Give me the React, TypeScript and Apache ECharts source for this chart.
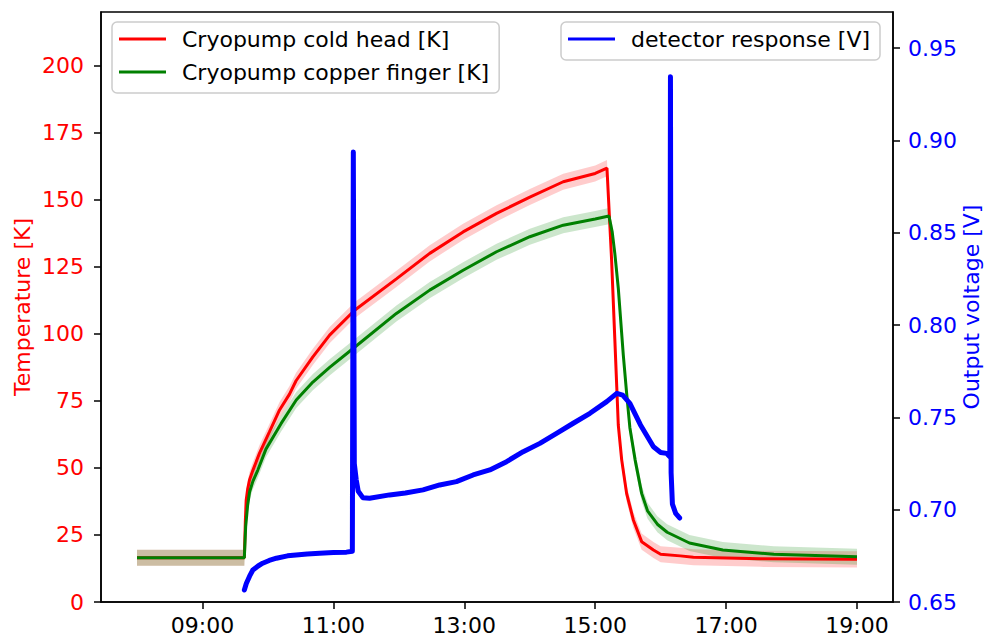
import React, { useEffect, useRef } from "react";
import * as echarts from "echarts";

// time in decimal hours, temperature in K
const coldHead: [number, number][] = [
  [8.0, 16.5], [9.64, 16.5], [9.655, 30], [9.668, 38], [9.69, 42], [9.719, 45.5], [9.769, 49],
  [9.872, 55.5], [10.025, 63.5], [10.178, 71.6], [10.33, 77.5], [10.43, 82.5], [10.687, 91.4],
  [10.943, 99.5], [11.325, 108.8], [11.963, 120.5], [12.472, 130], [12.982, 138], [13.493, 144.9],
  [14.002, 151], [14.512, 156.7], [15.0, 159.8], [15.18, 161.8], [15.25, 128], [15.3, 98],
  [15.33, 80], [15.353, 66], [15.405, 53], [15.48, 40.5], [15.583, 30.6], [15.71, 22.5],
  [15.89, 19.4], [16.0, 17.8], [16.3, 17.2], [16.5, 16.7], [17.52, 16.1], [19.0, 15.9],
];

const copperFinger: [number, number][] = [
  [8.0, 16.5], [9.64, 16.5], [9.66, 28], [9.69, 36], [9.72, 41], [9.77, 45], [9.846, 49.2],
  [9.97, 57], [10.2, 66.5], [10.433, 75.3], [10.687, 82], [10.943, 87.5], [11.325, 95],
  [11.963, 107.6], [12.472, 116.3], [12.982, 123.7], [13.493, 130.6], [14.002, 136.2],
  [14.512, 140.5], [15.0, 142.8], [15.21, 143.9], [15.26, 138], [15.3, 130], [15.353, 117],
  [15.43, 92], [15.48, 78], [15.53, 65], [15.61, 53], [15.71, 40.5], [15.8, 34], [15.95, 29],
  [16.1, 26], [16.44, 22], [16.95, 19.4], [17.73, 17.8], [19.0, 16.9],
];

// uncertainty of the temperature readings (K)
const tempUncertainty = 3;

// detector output voltage (V)
const detector: [number, number][] = [
  [9.64, 0.6565], [9.67, 0.66], [9.72, 0.664], [9.77, 0.6673], [9.85, 0.6695], [9.92, 0.671],
  [10.02, 0.6725], [10.13, 0.6737], [10.3, 0.675], [10.43, 0.6755], [10.6, 0.676], [10.79, 0.6764],
  [11.0, 0.6768], [11.2, 0.677], [11.29, 0.6775], [11.305, 0.8937], [11.32, 0.725], [11.35, 0.716],
  [11.38, 0.71], [11.45, 0.7065], [11.553, 0.7062], [11.859, 0.708], [12.1, 0.709], [12.37, 0.7107],
  [12.625, 0.7134], [12.88, 0.7152], [13.135, 0.7188], [13.39, 0.7215], [13.646, 0.726],
  [13.9, 0.7314], [14.155, 0.7359], [14.41, 0.7413], [14.665, 0.7468], [14.92, 0.7522],
  [15.176, 0.7585], [15.33, 0.763], [15.42, 0.762], [15.53, 0.7576], [15.69, 0.746],
  [15.89, 0.7341], [16.0, 0.731], [16.09, 0.7305], [16.14, 0.7287], [16.15, 0.9345],
  [16.16, 0.72], [16.18, 0.703], [16.23, 0.698], [16.29, 0.6955],
];

const timeTicks = [9, 11, 13, 15, 17, 19];
const tempTicks = [0, 25, 50, 75, 100, 125, 150, 175, 200];
const voltTicks = [0.65, 0.7, 0.75, 0.8, 0.85, 0.9, 0.95];

const NAME_HEAD = "Cryopump cold head [K]";
const NAME_FINGER = "Cryopump copper finger [K]";
const NAME_DET = "detector response [V]";

const FONT = "DejaVu Sans";
const FS = 22;

function bandSeries(data: [number, number][], color: string) {
  return {
    type: "custom",
    coordinateSystem: "cartesian2d",
    xAxisIndex: 0,
    yAxisIndex: 0,
    silent: true,
    z: 1,
    data: [[data[0][0], data[0][1]]],
    renderItem: (params: any, api: any) => {
      const upper = data.map((d) => api.coord([d[0], d[1] + tempUncertainty]));
      const lower = data
        .slice()
        .reverse()
        .map((d) => api.coord([d[0], d[1] - tempUncertainty]));
      return {
        type: "polygon",
        shape: { points: upper.concat(lower) },
        style: { fill: color, stroke: "none" },
      };
    },
  };
}

export default function App() {
  const ref = useRef<HTMLDivElement>(null);
  useEffect(() => {
    if (!ref.current) return;
    const chart = echarts.init(ref.current, null, { renderer: "svg" });
    const pad2 = (v: number) => (v < 10 ? "0" + v : "" + v);
    const legendCommon = {
      orient: "vertical",
      icon: "rect",
      itemWidth: 47,
      itemHeight: 3,
      itemGap: 7,
      borderColor: "#cccccc",
      borderWidth: 1.5,
      borderRadius: 5,
      backgroundColor: "rgba(255,255,255,0.8)",
      textStyle: {
        fontFamily: FONT,
        fontSize: FS,
        color: "#000",
        lineHeight: 26,
        padding: [0, 0, 0, 11],
      },
      selectedMode: false,
    };
    chart.setOption({
      animation: false,
      backgroundColor: "#fff",
      textStyle: { fontFamily: FONT },
      grid: {
        left: 101,
        right: 93,
        top: 12,
        bottom: 34,
        show: true,
        borderColor: "#000",
        borderWidth: 1.5,
        containLabel: false,
        outerBoundsMode: "none",
      },
      legend: [
        {
          ...legendCommon,
          left: 112,
          top: 22,
          padding: [4, 10, 8, 7],
          data: [NAME_HEAD, NAME_FINGER],
        },
        {
          ...legendCommon,
          left: 561,
          top: 22,
          padding: [4, 10, 8, 7],
          data: [NAME_DET],
        },
      ],
      xAxis: {
        type: "value",
        min: 7.45,
        max: 19.55,
        splitLine: { show: false },
        axisLine: { show: true, onZero: false, lineStyle: { color: "#000", width: 1.5 } },
        axisTick: {
          show: true,
          length: 7,
          customValues: timeTicks,
          lineStyle: { color: "#000", width: 1.5 },
        },
        axisLabel: {
          customValues: timeTicks,
          margin: 12,
          color: "#000",
          fontFamily: FONT,
          fontSize: FS,
          formatter: (v: number) => pad2(Math.round(v)) + ":00",
        },
      },
      yAxis: [
        {
          type: "value",
          position: "left",
          min: 0,
          max: 220,
          splitLine: { show: false },
          axisLine: { show: true, lineStyle: { color: "#000", width: 1.5 } },
          axisTick: {
            show: true,
            length: 7,
            customValues: tempTicks,
            lineStyle: { color: "#000", width: 1.5 },
          },
          axisLabel: {
            customValues: tempTicks,
            margin: 17,
            color: "#ff0000",
            fontFamily: FONT,
            fontSize: FS,
            formatter: (v: number) => String(Math.round(v)),
          },
          name: "Temperature [K]",
          nameLocation: "middle",
          nameGap: 68,
          nameRotate: 90,
          nameMoveOverlap: false,
          nameTextStyle: { color: "#ff0000", fontFamily: FONT, fontSize: FS },
        },
        {
          type: "value",
          position: "right",
          min: 0.65,
          max: 0.9695,
          splitLine: { show: false },
          axisLine: { show: true, lineStyle: { color: "#000", width: 1.5 } },
          axisTick: {
            show: true,
            length: 7,
            customValues: voltTicks,
            lineStyle: { color: "#000", width: 1.5 },
          },
          axisLabel: {
            customValues: voltTicks,
            margin: 15,
            color: "#0000ff",
            fontFamily: FONT,
            fontSize: FS,
            formatter: (v: number) => v.toFixed(2),
          },
          name: "Output voltage [V]",
          nameLocation: "middle",
          nameGap: 67,
          nameRotate: 90,
          nameMoveOverlap: false,
          nameTextStyle: { color: "#0000ff", fontFamily: FONT, fontSize: FS },
        },
      ],
      series: [
        bandSeries(coldHead, "rgba(255,0,0,0.2)"),
        bandSeries(copperFinger, "rgba(0,128,0,0.2)"),
        {
          name: NAME_HEAD,
          type: "line",
          xAxisIndex: 0,
          yAxisIndex: 0,
          data: coldHead,
          showSymbol: false,
          symbol: "none",
          lineStyle: { color: "#ff0000", width: 3 },
          itemStyle: { color: "#ff0000" },
          z: 2,
        },
        {
          name: NAME_FINGER,
          type: "line",
          xAxisIndex: 0,
          yAxisIndex: 0,
          data: copperFinger,
          showSymbol: false,
          symbol: "none",
          lineStyle: { color: "#008000", width: 3 },
          itemStyle: { color: "#008000" },
          z: 3,
        },
        {
          name: NAME_DET,
          type: "line",
          xAxisIndex: 0,
          yAxisIndex: 1,
          data: detector,
          showSymbol: false,
          symbol: "none",
          lineStyle: { color: "#0000ff", width: 5, join: "round", cap: "round" },
          itemStyle: { color: "#0000ff" },
          z: 4,
        },
      ],
    });
    return () => chart.dispose();
  }, []);
  return (
    <div
      ref={ref}
      style={{ position: "absolute", left: 0, top: 0, width: 986, height: 636 }}
    />
  );
}
